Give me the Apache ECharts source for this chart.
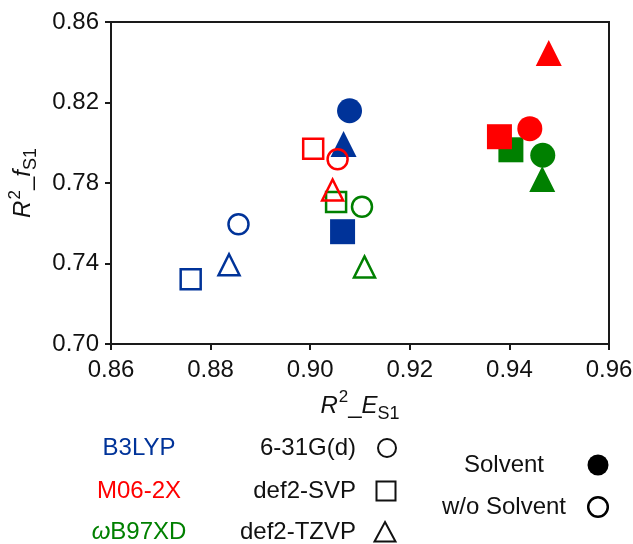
<!DOCTYPE html>
<html>
<head>
<meta charset="utf-8">
<script src="https://cdn.jsdelivr.net/npm/echarts@6/dist/echarts.min.js"></script>
<style>html,body{margin:0;padding:0;background:#fff}#c{width:633px;height:544px}</style>
</head>
<body>
<div id="c"></div>
<script>
// ---- data (basis-set order in each array: 6-31G(d), def2-SVP, def2-TZVP) ----
const functionals = ['B3LYP', 'M06-2X', 'ωB97XD'];
const basisSets = ['6-31G(d)', 'def2-SVP', 'def2-TZVP'];
const solventLabels = ['Solvent', 'w/o Solvent'];
const xTicks = [0.86, 0.88, 0.90, 0.92, 0.94, 0.96];
const yTicks = [0.70, 0.74, 0.78, 0.82, 0.86];

const b3lypSolventX = [0.9079, 0.9065, 0.9067];
const b3lypSolventY = [0.8159, 0.7558, 0.7994];
const b3lypGasX = [0.8856, 0.8760, 0.8837];
const b3lypGasY = [0.7595, 0.7322, 0.7394];
const m062xSolventX = [0.9441, 0.9380, 0.9479];
const m062xSolventY = [0.8070, 0.8030, 0.8446];
const m062xGasX = [0.9055, 0.9006, 0.9045];
const m062xGasY = [0.7918, 0.7970, 0.7765];
const wb97xdSolventX = [0.9467, 0.9403, 0.9466];
const wb97xdSolventY = [0.7938, 0.7965, 0.7820];
const wb97xdGasX = [0.9104, 0.9052, 0.9109];
const wb97xdGasY = [0.7682, 0.7705, 0.7383];

// ---- styling ----
const BLUE = '#003399', RED = '#ff0000', GREEN = '#008000';
const FONT = '"Liberation Sans", Arial, sans-serif';
const FS = 24;
const symbols = ['circle', 'rect', 'triangle'];
const filledSize = [25, 25, 26];
const openSize = [20, 20, 21];

function makeSeries(name, xs, ys, color, filled) {
  return {
    name: name,
    type: 'scatter',
    data: xs.map((x, i) => ({
      value: [x, ys[i]],
      symbol: symbols[i],
      symbolSize: filled ? filledSize[i] : openSize[i]
    })),
    itemStyle: filled
      ? { color: color, borderWidth: 0, opacity: 1 }
      : { color: 'rgba(255,255,255,0)', borderColor: color, borderWidth: 2.5, opacity: 1 },
    emphasis: { disabled: true }
  };
}

const series = [
  makeSeries('B3LYP w/o', b3lypGasX, b3lypGasY, BLUE, false),
  makeSeries('B3LYP sol', b3lypSolventX, b3lypSolventY, BLUE, true),
  makeSeries('wB97XD sol', wb97xdSolventX, wb97xdSolventY, GREEN, true),
  makeSeries('wB97XD w/o', wb97xdGasX, wb97xdGasY, GREEN, false),
  makeSeries('M06-2X sol', m062xSolventX, m062xSolventY, RED, true),
  makeSeries('M06-2X w/o', m062xGasX, m062xGasY, RED, false)
];

const rich = {
  i: { fontFamily: FONT, fontStyle: 'italic', fontSize: FS, color: '#111', lineHeight: 36, verticalAlign: 'middle' },
  n: { fontFamily: FONT, fontSize: FS, color: '#111', lineHeight: 36, verticalAlign: 'middle' },
  sup: { fontFamily: FONT, fontSize: 17, color: '#111', lineHeight: 17, verticalAlign: 'top', padding: [1, 0, 0, 1] },
  sub: { fontFamily: FONT, fontSize: 18, color: '#111', lineHeight: 18, verticalAlign: 'bottom', padding: [0, 0, 1, 0] }
};

const axisCommon = {
  axisLine: { show: true, onZero: false, lineStyle: { color: '#1a1a1a', width: 2 } },
  axisTick: { show: true, inside: false, length: 6, lineStyle: { color: '#1a1a1a', width: 2 } },
  splitLine: { show: false },
  nameLocation: 'middle'
};

const chart = echarts.init(document.getElementById('c'), null, { renderer: 'canvas' });
const legendColors = [BLUE, RED, GREEN];
const rowY = [448, 491, 532];
const gList = [];
functionals.forEach((f, i) => {
  const isW = f === 'ωB97XD';
  gList.push({
    type: 'text',
    style: {
      text: isW ? '{w|ω}{n|B97XD}' : f,
      x: 139, y: rowY[i], align: 'center', verticalAlign: 'middle',
      fill: legendColors[i], fontSize: FS, fontFamily: FONT,
      rich: isW ? {
        w: { fontFamily: FONT, fontStyle: 'italic', fontSize: FS, fill: legendColors[i] },
        n: { fontFamily: FONT, fontSize: FS, fill: legendColors[i] }
      } : undefined
    }
  });
});
basisSets.forEach((b, i) => {
  gList.push({
    type: 'text',
    style: { text: b, x: 356, y: rowY[i], align: 'right', verticalAlign: 'middle', fill: '#111', fontSize: FS, fontFamily: FONT }
  });
});
// basis-set key symbols
gList.push({ type: 'circle', shape: { cx: 387, cy: rowY[0], r: 9 }, style: { fill: 'none', stroke: '#111', lineWidth: 2 } });
gList.push({ type: 'rect', shape: { x: 376.5, y: rowY[1] - 9.5, width: 19, height: 19 }, style: { fill: 'none', stroke: '#111', lineWidth: 2 } });
gList.push({ type: 'polygon', shape: { points: [[385, rowY[2] - 10], [395.5, rowY[2] + 9.5], [374.5, rowY[2] + 9.5]] }, style: { fill: 'none', stroke: '#111', lineWidth: 2 } });
// solvent key
const solY = [465, 507];
solventLabels.forEach((s, i) => {
  gList.push({
    type: 'text',
    style: { text: s, x: 504, y: solY[i], align: 'center', verticalAlign: 'middle', fill: '#111', fontSize: FS, fontFamily: FONT }
  });
});
gList.push({ type: 'circle', shape: { cx: 598, cy: solY[0], r: 10.5 }, style: { fill: '#000' } });
gList.push({ type: 'circle', shape: { cx: 598, cy: solY[1], r: 9.8 }, style: { fill: 'none', stroke: '#000', lineWidth: 2.5 } });

chart.setOption({
  animation: false,
  backgroundColor: '#fff',
  grid: { left: 111, right: 24, top: 22, bottom: 200, show: true, containLabel: false, outerBoundsMode: 'none', borderColor: '#1a1a1a', borderWidth: 2, backgroundColor: 'transparent' },
  xAxis: Object.assign({}, axisCommon, {
    type: 'value', min: 0.86, max: 0.96,
    name: '{i|R}{sup|2}{n|_}{i|E}{sub|S1}',
    nameGap: 44,
    nameTextStyle: { rich: rich },
    axisTick: Object.assign({}, axisCommon.axisTick, { customValues: xTicks }),
    axisLabel: { customValues: xTicks, formatter: v => v.toFixed(2), fontSize: FS, fontFamily: FONT, color: '#111', margin: 14 }
  }),
  yAxis: Object.assign({}, axisCommon, {
    type: 'value', min: 0.70, max: 0.86,
    name: '{i|R}{sup|2}{n|_}{i|f}{sub|S1}',
    nameGap: 64, nameRotate: 90,
    nameTextStyle: { rich: rich },
    axisTick: Object.assign({}, axisCommon.axisTick, { customValues: yTicks }),
    axisLabel: { customValues: yTicks, formatter: v => v.toFixed(2), fontSize: FS, fontFamily: FONT, color: '#111', margin: 12 }
  }),
  series: series,
  graphic: gList
});
</script>
</body>
</html>
